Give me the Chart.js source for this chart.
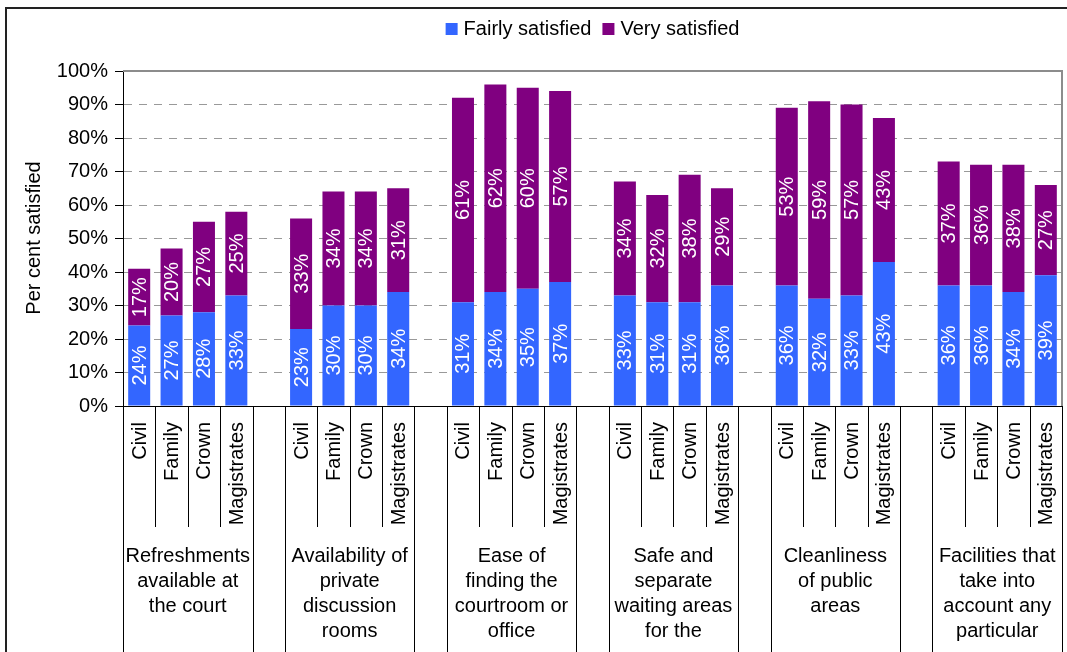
<!DOCTYPE html>
<html>
<head>
<meta charset="utf-8">
<script src="https://cdn.jsdelivr.net/npm/chart.js@4.4.1/dist/chart.umd.min.js"></script>
<style>
  html, body { margin: 0; padding: 0; background: #fff; }
  canvas { display: block; }
</style>
</head>
<body>
<canvas id="satisfactionChart" width="1067" height="652"></canvas>
<script>
// court types, repeated in every group
const courts = ['Civil', 'Family', 'Crown', 'Magistrates'];

// group captions, already split into lines
const groupNames = [
  ['Refreshments', 'available at', 'the court'],
  ['Availability of', 'private', 'discussion', 'rooms'],
  ['Ease of', 'finding the', 'courtroom or', 'office'],
  ['Safe and', 'separate', 'waiting areas', 'for the'],
  ['Cleanliness', 'of public', 'areas'],
  ['Facilities that', 'take into', 'account any', 'particular']
];

// per cent satisfied, four courts per group
const fairlySatisfied = [
  24, 27, 28, 33,
  23, 30, 30, 34,
  31, 34, 35, 37,
  33, 31, 31, 36,
  36, 32, 33, 43,
  36, 36, 34, 39
];
const verySatisfied = [
  17, 20, 27, 25,
  33, 34, 34, 31,
  61, 62, 60, 57,
  34, 32, 38, 29,
  53, 59, 57, 43,
  37, 36, 38, 27
];

const yTicks = [0, 10, 20, 30, 40, 50, 60, 70, 80, 90, 100];

const BLUE = '#3366FF';
const PURPLE = '#800080';
const FONT = 'Liberation Sans, Arial, sans-serif';

// one empty slot between groups
function withGaps(values) {
  const out = [];
  groupNames.forEach((g, gi) => {
    courts.forEach((c, ci) => out.push(values[gi * courts.length + ci]));
    if (gi < groupNames.length - 1) out.push(null);
  });
  return out;
}

const slotLabels = withGaps(groupNames.flatMap(() => courts)).map(v => v || '');
const slotsPerGroup = courts.length + 1;

const courtAxisPlugin = {
  id: 'courtAxis',
  afterDatasetsDraw(chart) {
    const ctx = chart.ctx;
    ctx.save();
    ctx.fillStyle = '#fff';
    ctx.font = '20px ' + FONT;
    ctx.textAlign = 'center';
    ctx.textBaseline = 'middle';
    chart.data.datasets.forEach((ds, di) => {
      chart.getDatasetMeta(di).data.forEach((bar, i) => {
        const v = ds.data[i];
        if (v == null) return;
        const cy = (bar.y + bar.base) / 2;
        ctx.save();
        ctx.translate(bar.x, cy);
        ctx.rotate(-Math.PI / 2);
        ctx.fillText(Math.round(v) + '%', 0, 1);
        ctx.restore();
      });
    });
    ctx.restore();
  },
  afterDraw(chart) {
    const ctx = chart.ctx;
    const area = chart.chartArea;
    const x = chart.scales.x;
    const n = slotLabels.length;
    const slot = (area.right - area.left) / n;

    ctx.save();

    // outer frame
    ctx.strokeStyle = '#222';
    ctx.lineWidth = 2;
    ctx.strokeRect(6, 8, 1200, 800);

    // plot area frame, top and right
    ctx.strokeStyle = '#8c8c8c';
    ctx.lineWidth = 2;
    ctx.beginPath();
    ctx.moveTo(area.left, area.top);
    ctx.lineTo(area.right, area.top);
    ctx.lineTo(area.right, area.bottom);
    ctx.stroke();

    // category separators
    ctx.strokeStyle = '#000';
    ctx.lineWidth = 1;
    for (let k = 0; k <= n; k++) {
      const px = Math.round(area.left + k * slot) + 0.5;
      const pos = k % slotsPerGroup;
      const full = pos === 0 || pos === courts.length;
      ctx.beginPath();
      ctx.moveTo(px, area.bottom);
      ctx.lineTo(px, full ? chart.height : area.bottom + 121);
      ctx.stroke();
    }

    // court names, rotated
    ctx.fillStyle = '#000';
    ctx.font = '20px ' + FONT;
    ctx.textAlign = 'right';
    ctx.textBaseline = 'middle';
    slotLabels.forEach((label, i) => {
      if (!label) return;
      ctx.save();
      ctx.translate(x.getPixelForValue(i) + 1, area.bottom + 16);
      ctx.rotate(-Math.PI / 2);
      ctx.fillText(label, 0, 0);
      ctx.restore();
    });

    // group captions
    ctx.textAlign = 'center';
    groupNames.forEach((lines, gi) => {
      const first = gi * slotsPerGroup;
      const cx = area.left + (first + courts.length / 2) * slot;
      lines.forEach((line, li) => {
        ctx.fillText(line, cx, area.bottom + 150 + li * 25);
      });
    });

    // y axis title
    ctx.save();
    ctx.translate(34, 238);
    ctx.rotate(-Math.PI / 2);
    ctx.fillText('Per cent satisfied', 0, 0);
    ctx.restore();

    // legend
    const items = chart.data.datasets.map(ds => ({ text: ds.label, color: ds.backgroundColor }));
    const widths = items.map(it => ctx.measureText(it.text).width);
    const total = items.length * 18 + widths.reduce((a, b) => a + b, 0) + 11;
    let lx = (area.left + area.right) / 2 - total / 2;
    ctx.textAlign = 'left';
    items.forEach((it, i) => {
      ctx.fillStyle = it.color;
      ctx.fillRect(lx, 23, 12, 12);
      ctx.fillStyle = '#000';
      ctx.fillText(it.text, lx + 18, 29);
      lx += 18 + widths[i] + 11;
    });

    ctx.restore();
  }
};

new Chart(document.getElementById('satisfactionChart'), {
  type: 'bar',
  data: {
    labels: slotLabels,
    datasets: [
      {
        label: 'Fairly satisfied',
        data: withGaps(fairlySatisfied),
        backgroundColor: BLUE
      },
      {
        label: 'Very satisfied',
        data: withGaps(verySatisfied),
        backgroundColor: PURPLE
      }
    ]
  },
  options: {
    responsive: false,
    animation: false,
    layout: { padding: { top: 71, right: 5, left: 0, bottom: 0 } },
    datasets: {
      bar: { categoryPercentage: 1, barPercentage: 0.68 }
    },
    plugins: {
      legend: { display: false },
      tooltip: { enabled: false }
    },
    scales: {
      x: {
        stacked: true,
        grid: { display: false },
        ticks: { display: false },
        border: { display: true, color: '#000', width: 1 },
        afterFit(scale) { scale.height = 246; }
      },
      y: {
        stacked: true,
        min: yTicks[0],
        max: yTicks[yTicks.length - 1],
        afterBuildTicks(scale) { scale.ticks = yTicks.map(v => ({ value: v })); },
        afterFit(scale) { scale.width = 123; },
        ticks: {
          padding: 7,
          color: '#000',
          font: { family: FONT, size: 20 },
          callback: v => v + '%'
        },
        grid: {
          color: '#999',
          lineWidth: 1,
          tickLength: 8,
          tickColor: '#000'
        },
        border: { display: true, color: '#000', width: 1, dash: [8, 7] }
      }
    }
  },
  plugins: [courtAxisPlugin]
});
</script>
</body>
</html>
